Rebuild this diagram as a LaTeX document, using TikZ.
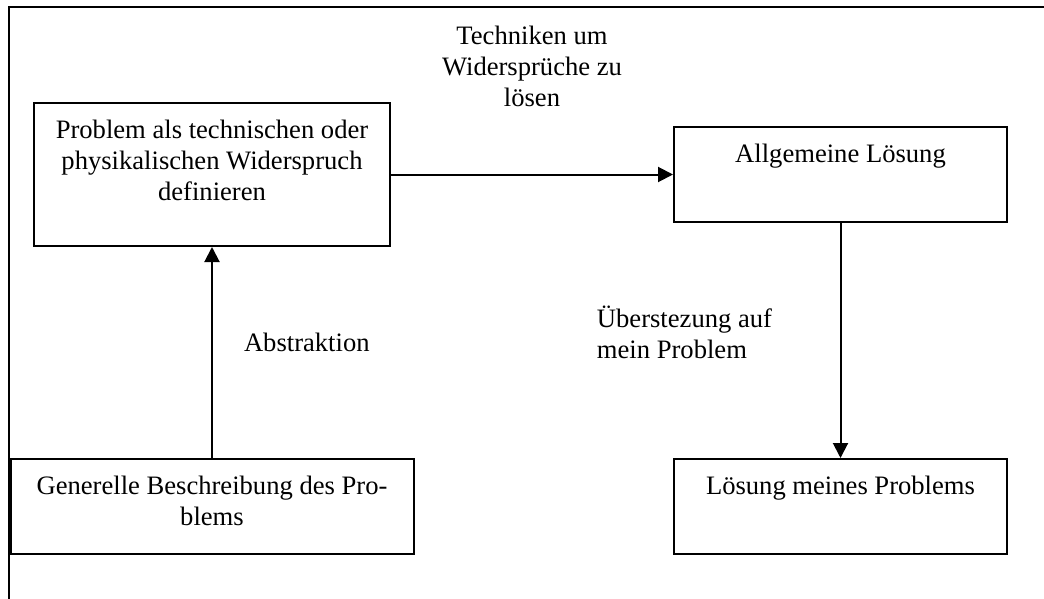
\documentclass[tikz,border=0pt]{standalone}
\usepackage{fontspec}
\setmainfont{Liberation Serif}
\usetikzlibrary{positioning,arrows.meta}

\begin{document}
\begin{tikzpicture}[->,>={Triangle[length=7.5pt,width=7.5pt]},auto,line width=1pt,
    box/.style={rectangle,draw,minimum width=166.5pt,minimum height=47.5pt},
    box text/.style={inner sep=0pt,align=center,font=\fontsize{13.3}{15.5}\selectfont}]

    \useasboundingbox (0,0) rectangle (522pt,-299.5pt);
    \draw[-] (4.5pt,-299.5pt) |- (522pt,-3.65pt);

    \node[box, minimum width=178pt, minimum height=71.5pt] (prob) at (106pt,-87.25pt) {};
    \node[box] (allg) [node distance=314.25pt, right of=prob] {};
    \node[box, minimum width=201.5pt] (gen) [node distance=166pt, below of=prob] {};
    \node[box] (loes) [node distance=166pt, below of=allg] {};

    \node[box text, below=8.75pt of prob.north] (probtext) {Problem als technischen oder\\physikalischen Widerspruch\\definieren};
    \node[box text, below=8.75pt of allg.north] (allgtext) {Allgemeine Lösung};
    \node[box text, below=8.75pt of gen.north] (gentext) {Generelle Beschreibung des Pro-\\blems};
    \node[box text, below=8.75pt of loes.north] (loestext) {Lösung meines Problems};

    \path[every node/.style={box text}]
        (prob) edge node[yshift=33.5pt]{Techniken um\\Widersprüche zu\\lösen} (allg)
        (gen) edge[swap] node[xshift=15.5pt, yshift=5.3pt]{Abstraktion} (prob)
        (allg) edge[swap] node[align=left, xshift=-33.75pt, yshift=4.25pt]{Überstezung auf\\mein Problem} (loes)
        ;
\end{tikzpicture}
\end{document}
